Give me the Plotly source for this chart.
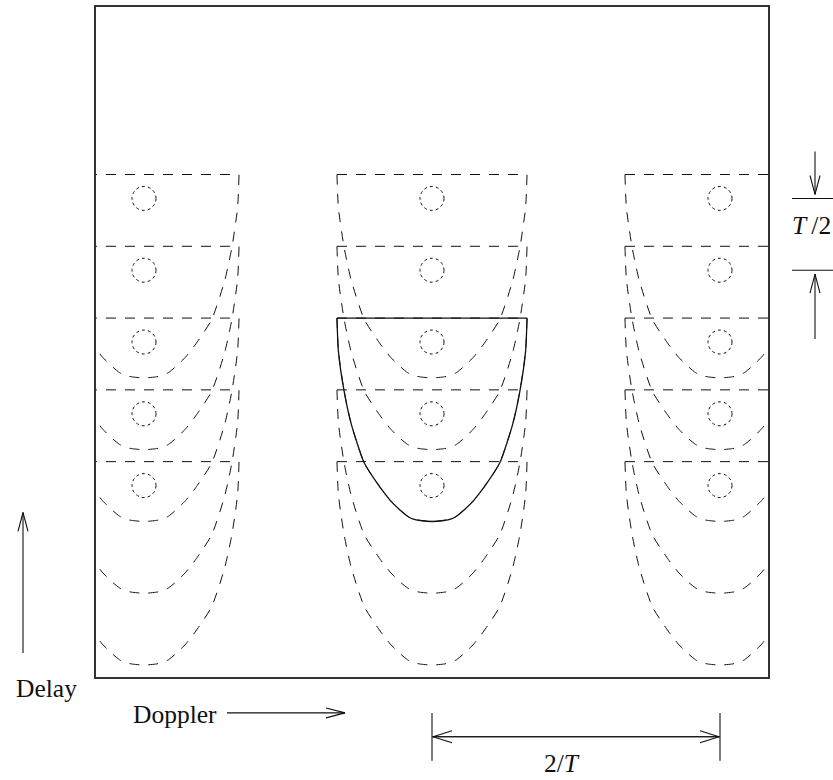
import plotly.graph_objects as go

# ---------------- page / plot geometry ----------------
FIG_W, FIG_H = 833, 780
M_L, M_R, M_T, M_B = 96, 65, 5, 103
PW = FIG_W - M_L - M_R
PH = FIG_H - M_T - M_B

# Doppler axis in units of 1/T, delay axis in units of T
X_RANGE = [-7 / 3, 7 / 3]
Y_RANGE = [0.0, 14 / 3]

# ---------------- data ----------------
col_centers = [-2.0, 0.0, 2.0]            # Doppler centres (1/T)
top_delays = [3.5, 3.0, 2.5, 2.0, 1.5]    # delay of each region's top edge (T)
highlight_col = 0.0                        # the solid (highlighted) region
highlight_top = 2.5

# region outline: depth below top edge (T) vs half-width (1/T)
profile_depth = [0.0, 0.23, 0.51, 0.74, 1.01, 1.18, 1.27, 1.33, 1.38, 1.40, 1.41, 1.417]
profile_halfw = [0.66, 0.65, 0.61, 0.56, 0.47, 0.36, 0.29, 0.23, 0.17, 0.13, 0.08, 0.0]

circle_drop = 1 / 6      # circle centre below top edge (T)
circle_radius = 1 / 12

doppler_spacing_label = "2/<i>T</i>"
delay_spacing_label = "<i>T</i>\u2009/2"

FONT = "Liberation Serif, Times New Roman, serif"
FONT_SIZE = 25.5
INK = "#111111"


def x_to_px(x):
    return M_L + (x - X_RANGE[0]) / (X_RANGE[1] - X_RANGE[0]) * PW


def y_to_px(y):
    return M_T + (Y_RANGE[1] - y) / (Y_RANGE[1] - Y_RANGE[0]) * PH


def pp(px, py):
    return (px - M_L) / PW, (FIG_H - M_B - py) / PH


fig = go.Figure()


def add_region(c, t, dash, width):
    h0 = profile_halfw[0]
    # top edge
    fig.add_trace(go.Scatter(
        x=[c - h0, c + h0], y=[t, t], mode="lines",
        line=dict(color=INK, width=width, dash=dash),
        hoverinfo="skip", showlegend=False))
    # U-shaped outline
    xs = [c - h for h in profile_halfw] + [c + h for h in reversed(profile_halfw[:-1])]
    ys = [t - d for d in profile_depth] + [t - d for d in reversed(profile_depth[:-1])]
    fig.add_trace(go.Scatter(
        x=xs, y=ys, mode="lines",
        line=dict(color=INK, width=width, dash=dash, shape="spline", smoothing=0.6),
        hoverinfo="skip", showlegend=False))


for c in col_centers:
    for t in top_delays:
        add_region(c, t, "10px,9px", 1)

add_region(highlight_col, highlight_top, "solid", 1.3)

shapes = []
# dotted circles
for c in col_centers:
    for t in top_delays:
        yc = t - circle_drop
        shapes.append(dict(
            type="circle", xref="x", yref="y",
            x0=c - circle_radius, x1=c + circle_radius,
            y0=yc - circle_radius, y1=yc + circle_radius,
            line=dict(color=INK, width=1, dash="3px,3px")))


def seg(p1, p2, width=1.1):
    x0, y0 = pp(*p1)
    x1, y1 = pp(*p2)
    shapes.append(dict(type="line", xref="paper", yref="paper",
                       x0=x0, y0=y0, x1=x1, y1=y1,
                       line=dict(color=INK, width=width)))


def arrow(tail, tip, head_len=19, head_half=5):
    seg(tail, tip)
    dx, dy = tip[0] - tail[0], tip[1] - tail[1]
    n = (dx * dx + dy * dy) ** 0.5
    ux, uy = dx / n, dy / n
    bx, by = tip[0] - ux * head_len, tip[1] - uy * head_len
    seg(tip, (bx - uy * head_half, by + ux * head_half))
    seg(tip, (bx + uy * head_half, by - ux * head_half))


# Delay arrow
arrow((23, 653), (23, 512))
# Doppler arrow
arrow((227, 713), (345, 713))

# 2/T dimension
xa = x_to_px(col_centers[1])
xb = x_to_px(col_centers[2])
seg((xa, 713), (xa, 761))
seg((xb, 713), (xb, 761))
arrow((xb, 737), (xa + 1, 737), head_len=19, head_half=6)
arrow((xa, 737), (xb - 1, 737), head_len=19, head_half=6)

# T/2 dimension
ya = y_to_px(top_delays[0] - circle_drop)
yb = y_to_px(top_delays[1] - circle_drop)
seg((792, ya), (845, ya))
seg((792, yb), (845, yb))
arrow((815, 150), (815, ya - 4))
arrow((815, 338), (815, yb + 4))

annotations = []


def label(text, px, py, xanchor="center"):
    x, y = pp(px, py)
    annotations.append(dict(text=text, x=x, y=y, xref="paper", yref="paper",
                            xanchor=xanchor, yanchor="middle", showarrow=False,
                            font=dict(family=FONT, size=FONT_SIZE, color=INK)))


label("Delay", 46, 689)
label("Doppler", 175, 715)
label(doppler_spacing_label, (xa + xb) / 2 - 14, 764)
label(delay_spacing_label, 790, 224, xanchor="left")

fig.update_layout(
    width=FIG_W, height=FIG_H, autosize=False,
    margin=dict(l=M_L, r=M_R, t=M_T, b=M_B, pad=0),
    paper_bgcolor="white", plot_bgcolor="white",
    shapes=shapes, annotations=annotations,
    xaxis=dict(range=X_RANGE, showgrid=False, zeroline=False, showticklabels=False,
               ticks="", showline=True, mirror=True, linecolor="#333", linewidth=1.5,
               fixedrange=True),
    yaxis=dict(range=Y_RANGE, showgrid=False, zeroline=False, showticklabels=False,
               ticks="", showline=True, mirror=True, linecolor="#333", linewidth=1.5,
               fixedrange=True),
)

fig.write_html("out.html", config={"displayModeBar": False})
